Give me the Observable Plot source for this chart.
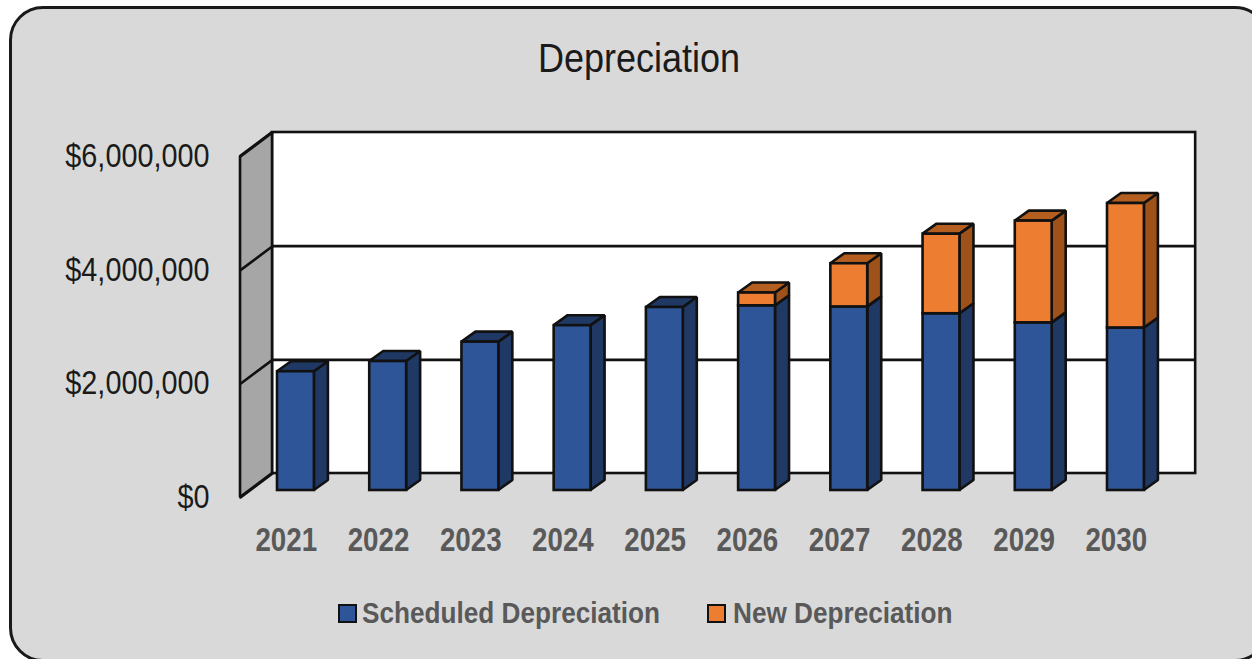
<!DOCTYPE html>
<html><head><meta charset="utf-8">
<script src="https://cdn.jsdelivr.net/npm/d3@7"></script>
<script src="https://cdn.jsdelivr.net/npm/@observablehq/plot@0.6"></script>
<style>
html,body{margin:0;padding:0;background:#fff;overflow:hidden}
#page{position:relative;width:1252px;height:659px;overflow:hidden}
#card{position:absolute;box-sizing:border-box;left:9px;top:6px;width:1260px;height:656px;background:#d9d9d9;border:3.5px solid #1a1a1a;border-radius:34px}
#title{position:absolute;left:538px;top:30px;white-space:nowrap;transform-origin:0 50%;transform:scaleX(.9);font:40px/56px "Liberation Sans",sans-serif;color:#1a1a1a}
#chart{position:absolute;left:0;top:110px}
#chart svg{background:transparent;display:block}
#legend{position:absolute;left:0;top:596px;height:34px;width:1252px;font:bold 29px/34px "Liberation Sans",sans-serif;color:#595959}
#legend span{position:absolute;top:0;white-space:nowrap;transform-origin:0 50%;transform:scaleX(.902)}
#legend i{position:absolute;top:8px;width:15px;height:15px;border:2px solid #111}
</style></head><body>
<div id="page"><div id="card"></div>
<div id="title">Depreciation</div>
<div id="chart"></div>
<div id="legend">
<i style="left:338px;background:#2e5597"></i><span style="left:362px">Scheduled Depreciation</span>
<i style="left:707px;background:#ed7d31"></i><span style="left:733px">New Depreciation</span>
</div></div>
<script>
const years = [2021,2022,2023,2024,2025,2026,2027,2028,2029,2030];
const scheduled = [2090000,2270000,2610000,2900000,3220000,3250000,3230000,3110000,2950000,2860000];
const added = [0,0,0,0,0,225000,760000,1400000,1790000,2190000];
const ticks = [0,2000000,4000000,6000000];
const colors = {
  scheduled:{front:"#2e5597",side:"#203864",top:"#203864"},
  added:{front:"#ed7d31",side:"#9e5219",top:"#b45f20"}
};
const stroke = "#111", sw = 2.6;
// depth offsets in data units
const barW = 0.4, barDX = 0.152, barDY = 176000;
const wallFrontX = -0.401, wallBackX = -0.054, wallRightX = 9.956;
const wallFrontY = -123000, wallBackY = 299000;
const opts = {fill:"none",stroke,strokeWidth:sw,strokeLinejoin:"miter"};

function box(i,lo,hi,c){
  const x1=i, x2=i+barW;
  return [
    Plot.areaY([{x:x2,a:lo,b:hi},{x:x2+barDX,a:lo+barDY,b:hi+barDY}],{x:"x",y1:"a",y2:"b",...opts,fill:c.side}),
    Plot.areaX([{y:hi,a:x1,b:x2},{y:hi+barDY,a:x1+barDX,b:x2+barDX}],{y:"y",x1:"a",x2:"b",...opts,fill:c.top}),
    Plot.rect([{x1,x2,y1:lo,y2:hi}],{x1:"x1",x2:"x2",y1:"y1",y2:"y2",...opts,fill:c.front})
  ];
}
const marks = [
  Plot.rect([{}],{x1:()=>wallBackX,x2:()=>wallRightX,y1:()=>wallBackY,y2:()=>6000000+wallBackY,...opts,fill:"#fff"}),
  Plot.ruleY(ticks.slice(1,3),{y:d=>d+wallBackY,x1:()=>wallBackX,x2:()=>wallRightX,stroke,strokeWidth:sw}),
  Plot.areaY([{x:wallFrontX,a:wallFrontY,b:6000000+wallFrontY},{x:wallBackX,a:wallBackY,b:6000000+wallBackY}],{x:"x",y1:"a",y2:"b",...opts,fill:"#a6a6a6"}),
  ...ticks.map(t=>Plot.line([{x:wallFrontX,y:t+wallFrontY},{x:wallBackX,y:t+wallBackY}],{x:"x",y:"y",stroke,strokeWidth:sw})),
  ...years.flatMap((_,i)=>[
    ...box(i,0,scheduled[i],colors.scheduled),
    ...(added[i]>0?box(i,scheduled[i],scheduled[i]+added[i],colors.added):[])
  ]),
  Plot.text(ticks,{x:()=>wallFrontX,y:d=>d+wallFrontY,text:d=>d3.format("$,")(d),textAnchor:"end",dx:-31,fontSize:33,fill:"#1a1a1a",fontFamily:"Liberation Sans, sans-serif",className:"squeeze-tick"}),
  Plot.text(years,{x:(d,i)=>i+0.095,y:()=>-880000,text:d=>String(d),fontSize:33,fontWeight:"bold",fill:"#595959",fontFamily:"Liberation Sans, sans-serif",className:"squeeze-year"})
];
const chart = Plot.plot({
  width:1252,height:470,margin:0,
  style:{background:"transparent",overflow:"visible"},
  x:{type:"linear",domain:[0,9],range:[277,1107],axis:null},
  y:{type:"linear",domain:[0,6000000],range:[380,39],axis:null},
  marks
});
document.getElementById("chart").append(chart);
function squeeze(sel,k){
  chart.querySelectorAll(sel+" text").forEach(t=>{
    t.setAttribute("textLength",t.getComputedTextLength()*k);
    t.setAttribute("lengthAdjust","spacingAndGlyphs");
  });
}
squeeze(".squeeze-tick",.873);
squeeze(".squeeze-year",.84);
</script></body></html>
